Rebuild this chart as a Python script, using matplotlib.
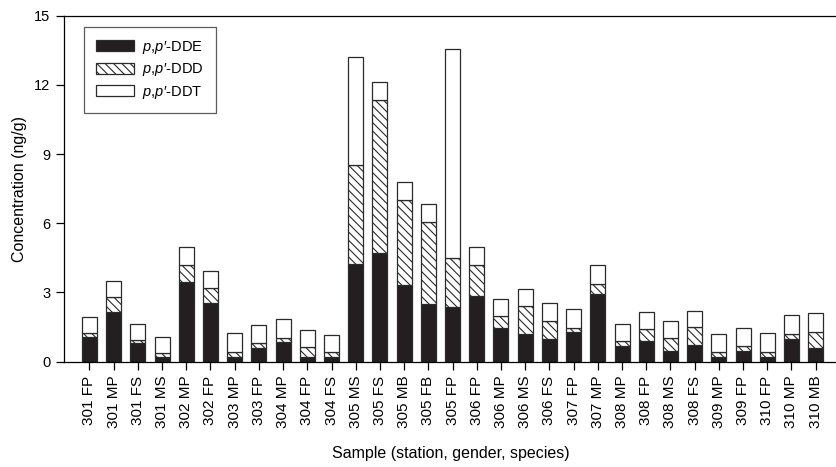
import numpy as np
import matplotlib
matplotlib.use('Agg')
import matplotlib.pyplot as plt

plt.rcParams['font.family'] = ['Liberation Sans', 'DejaVu Sans']
plt.rcParams['mathtext.fontset'] = 'custom'
plt.rcParams['mathtext.rm'] = 'Liberation Sans'
plt.rcParams['mathtext.it'] = 'Liberation Sans:italic'
plt.rcParams['hatch.linewidth'] = 0.8

# Muestras (estación, género, especie)
muestras = ['301 FP', '301 MP', '301 FS', '301 MS', '302 MP', '302 FP', '303 MP',
            '303 FP', '304 MP', '304 FP', '304 FS', '305 MS', '305 FS', '305 MB',
            '305 FB', '305 FP', '306 FP', '306 MP', '306 MS', '306 FS', '307 FP',
            '307 MP', '308 MP', '308 FP', '308 MS', '308 FS', '309 MP', '309 FP',
            '310 FP', '310 MP', '310 MB']

# valores leídos como acumulados (tope de cada segmento)
dde_top = [1.06, 2.17, 0.80, 0.22, 3.47, 2.53, 0.22, 0.61, 0.84, 0.22, 0.22, 4.23,
           4.70, 3.32, 2.49, 2.36, 2.85, 1.47, 1.20, 0.97, 1.27, 2.92, 0.69, 0.91,
           0.48, 0.74, 0.22, 0.48, 0.22, 0.98, 0.61]
ddd_top = [1.26, 2.79, 0.94, 0.36, 4.19, 3.18, 0.42, 0.80, 1.04, 0.62, 0.42, 8.52,
           11.34, 7.01, 6.04, 4.48, 4.19, 1.98, 2.41, 1.78, 1.47, 3.37, 0.90, 1.42,
           1.04, 1.49, 0.41, 0.67, 0.42, 1.20, 1.30]
total = [1.95, 3.50, 1.63, 1.08, 4.98, 3.95, 1.23, 1.59, 1.84, 1.36, 1.14, 13.22,
         12.14, 7.80, 6.84, 13.55, 4.96, 2.72, 3.16, 2.53, 2.27, 4.18, 1.65, 2.17,
         1.76, 2.18, 1.20, 1.47, 1.23, 2.02, 2.10]

dde = np.array(dde_top)
ddd = np.array(ddd_top) - dde
ddt = np.array(total) - np.array(ddd_top)

fig = plt.figure(figsize=(8.37, 4.67), dpi=100)
ax = fig.add_axes([0.0768, 0.2255, 0.9232, 0.7409])

x = np.arange(len(muestras))
w = 0.62
borde = '#2a2a2a'
ax.bar(x, dde, w, color='#231f20', edgecolor=borde, linewidth=0.9,
       label=r"$\mathit{p,\!p}$′-DDE")
ax.bar(x, ddd, w, bottom=dde, color='white', edgecolor=borde, linewidth=0.9,
       hatch='\\' * 4, label=r"$\mathit{p,\!p}$′-DDD")
ax.bar(x, ddt, w, bottom=dde + ddd, color='white', edgecolor=borde, linewidth=0.9,
       label=r"$\mathit{p,\!p}$′-DDT")

ax.set_ylim(0, 15)
ax.set_xlim(-1.04, 30.88)
ax.set_yticks([0, 3, 6, 9, 12, 15])
ax.set_xticks(x)
ax.set_xticklabels(muestras, rotation=90, fontsize=11)
ax.tick_params(axis='y', labelsize=10.5, length=6, width=0.9, pad=4)
ax.tick_params(axis='x', length=6, width=0.9, pad=4)
ax.spines['right'].set_visible(False)
for s in ['left', 'bottom', 'top']:
    ax.spines[s].set_linewidth(0.9)

ax.set_ylabel('Concentration (ng/g)', fontsize=11.5, labelpad=5)
ax.set_xlabel('Sample (station, gender, species)', fontsize=11.5, labelpad=13)

leg = ax.legend(loc='upper left', bbox_to_anchor=(0.0255, 0.967), borderaxespad=0,
                fontsize=10.5, frameon=True, fancybox=False, edgecolor='#333333',
                handlelength=2.6, handleheight=0.8, borderpad=0.8,
                labelspacing=0.38, handletextpad=0.6)
leg.get_frame().set_linewidth(0.9)

plt.savefig('out.png', dpi=100)
